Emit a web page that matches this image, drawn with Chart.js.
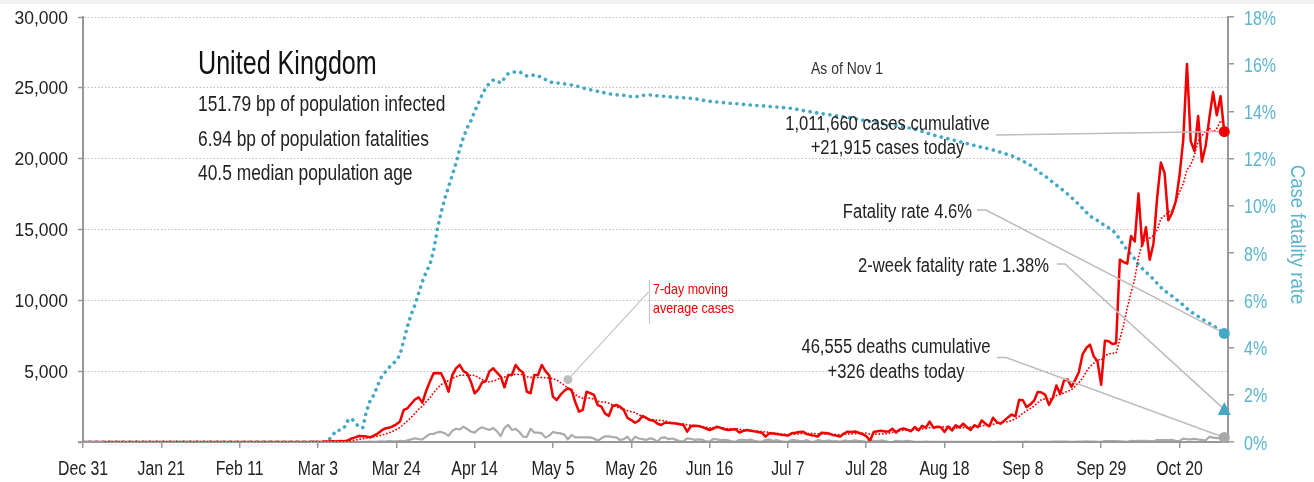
<!DOCTYPE html>
<html>
<head>
<meta charset="utf-8">
<title>United Kingdom</title>
<script src="https://cdn.jsdelivr.net/npm/chart.js@4.4.1/dist/chart.umd.min.js"></script>
<style>
  html, body { margin: 0; padding: 0; background: #fff; }
  canvas { display: block; }
</style>
</head>
<body>
<canvas id="chart" width="1314" height="482"></canvas>
<script>
/****************************************************/
/*****************data (day 0 = Dec 31)**************/
/****************************************************/
const dailyCases = [
  0,0,0,0,0,0,0,0,0,0,
  0,0,0,0,0,0,0,0,0,0,
  0,0,0,0,0,0,0,0,0,0,
  0,0,2,0,0,0,0,0,1,1,
  0,0,4,1,0,0,0,0,0,0,
  0,0,0,0,0,0,0,4,0,2,
  5,3,13,4,11,34,30,48,43,67,
  48,100,250,330,420,400,380,330,450,600,
  800,960,1000,1100,1250,1450,2260,2380,2700,3000,
  3150,2780,3600,4260,4850,4870,4850,4300,3550,4700,
  5200,5440,5000,4850,4260,3440,3700,4200,4300,5000,
  5200,4890,4610,3860,4730,4730,5440,5100,4900,3550,
  3440,4730,4730,5440,5000,4700,3200,2960,3320,3600,
  3790,3670,2800,2140,2260,3550,3450,3320,2610,2490,
  2000,1840,2540,2610,2500,2260,1700,1550,1360,1500,
  1840,1700,1550,1500,1300,1200,1360,1350,1320,1300,
  1250,1200,730,1130,1150,1130,1050,950,850,950,
  1080,1000,900,850,880,900,660,780,850,800,
  750,700,660,380,610,600,560,520,500,450,
  610,650,700,730,570,500,450,380,660,640,
  600,500,450,380,600,730,700,740,650,560,
  420,90,700,760,800,744,742,938,670,892,
  950,871,758,1062,816,1148,1009,1441,1012,1077,
  1040,713,1089,812,1182,1033,1288,1041,853,1184,
  1048,1522,1276,1108,1715,1406,1295,1508,1735,1940,
  1813,2988,2948,2460,2659,2919,3539,3497,3330,2621,
  3105,3991,3395,4322,4422,3899,4368,4926,6178,6634,
  6874,6042,5693,4044,7143,7108,6914,6968,12872,12700,
  12594,14542,14162,17540,13864,15166,12872,13972,17234,19724,
  18980,15650,16171,16982,18804,21331,26688,21242,20530,23012,
  19790,20890,22885,24701,23065,24405,21915
];

const dailyDeaths = [
  0,0,0,0,0,0,0,0,0,0,
  0,0,0,0,0,0,0,0,0,0,
  0,0,0,0,0,0,0,0,0,0,
  0,0,0,0,0,0,0,0,0,0,
  0,0,0,0,0,0,0,0,0,0,
  0,0,0,0,0,0,0,0,0,0,
  0,0,0,0,0,0,1,0,1,0,
  2,1,0,1,1,10,14,20,16,33,
  40,33,56,48,54,87,41,115,181,260,
  209,180,380,563,569,684,708,621,439,786,
  938,881,1080,917,737,660,900,1040,930,847,
  990,750,420,1000,1200,850,930,710,380,360,
  930,660,660,610,310,450,710,640,610,540,
  190,500,330,330,330,330,330,250,90,260,
  400,400,350,330,140,200,380,20,380,250,
  200,140,260,200,20,300,330,200,250,150,
  60,50,250,230,150,190,170,40,30,210,
  180,130,160,120,40,15,160,150,140,170,
  90,30,25,150,170,90,130,60,20,15,
  150,120,80,50,140,20,10,130,80,65,
  110,40,60,10,100,80,70,110,60,55,
  5,110,80,40,110,60,8,1,80,60,
  50,90,55,8,8,15,20,18,11,18,
  3,2,12,6,6,2,12,2,3,16,
  14,12,9,12,1,2,3,10,12,10,
  12,2,3,32,8,14,6,9,5,9,
  27,20,21,27,27,18,11,37,37,40,
  34,34,17,13,71,71,59,66,49,33,
  19,76,70,77,87,81,65,50,143,137,
  138,136,150,67,80,241,191,189,224,174,
  151,102,367,310,280,274,326
];

// case fatality rate, %
const fatalityRate = [
  0,0,0,0,0,0,0,0,0,0,
  0,0,0,0,0,0,0,0,0,0,
  0,0,0,0,0,0,0,0,0,0,
  0,0,0,0,0,0,0,0,0,0,
  0,0,0,0,0,0,0,0,0,0,
  0,0,0,0,0,0,0,0,0,0,
  0,0,0,0,0,0,0.1,0.3,0.5,0.5,
  0.6,0.9,1.0,0.8,0.65,0.6,1.3,1.75,2.0,2.4,
  2.75,2.95,3.15,3.3,3.45,3.7,4.3,4.9,5.4,5.8,
  6.3,6.8,7.2,7.5,8.1,9.0,9.7,10.3,10.8,11.3,
  11.8,12.4,12.9,13.3,13.6,14.0,14.35,14.7,15.0,15.2,
  15.33,15.3,15.2,15.4,15.6,15.65,15.68,15.68,15.6,15.5,
  15.5,15.55,15.5,15.45,15.35,15.26,15.22,15.2,15.2,15.17,
  15.14,15.12,15.08,15.05,15.0,14.95,14.92,14.88,14.85,14.82,
  14.78,14.75,14.72,14.7,14.7,14.68,14.65,14.63,14.62,14.64,
  14.68,14.7,14.7,14.68,14.66,14.65,14.64,14.62,14.61,14.6,
  14.59,14.58,14.57,14.56,14.54,14.51,14.48,14.45,14.43,14.41,
  14.4,14.38,14.37,14.35,14.34,14.33,14.32,14.3,14.29,14.27,
  14.26,14.25,14.24,14.23,14.21,14.2,14.19,14.17,14.16,14.15,
  14.13,14.1,14.07,14.04,14.01,13.99,13.96,13.93,13.91,13.88,
  13.86,13.85,13.82,13.8,13.77,13.74,13.72,13.69,13.66,13.63,
  13.6,13.57,13.55,13.52,13.5,13.47,13.44,13.42,13.39,13.37,
  13.34,13.31,13.29,13.25,13.2,13.15,13.1,13.05,13.0,12.96,
  12.92,12.88,12.84,12.8,12.76,12.72,12.68,12.64,12.6,12.56,
  12.52,12.48,12.45,12.41,12.37,12.32,12.27,12.22,12.17,12.12,
  12.06,11.98,11.9,11.81,11.73,11.6,11.48,11.36,11.26,11.13,
  11.0,10.88,10.75,10.63,10.5,10.36,10.22,10.06,9.9,9.73,
  9.57,9.47,9.38,9.27,9.16,9.07,8.98,8.8,8.58,8.35,
  8.12,7.95,7.75,7.5,7.35,7.2,7.05,6.9,6.72,6.55,
  6.4,6.3,6.18,6.05,5.93,5.8,5.65,5.52,5.42,5.32,
  5.22,5.12,5.03,4.93,4.83,4.72,4.6
];

const twoWeekRate = 1.38;

const xTickLabels = ['Dec 31','Jan 21','Feb 11','Mar 3','Mar 24','Apr 14','May 5','May 26','Jun 16','Jul 7','Jul 28','Aug 18','Sep 8','Sep 29','Oct 20'];
const yTickLabels = ['', '5,000', '10,000', '15,000', '20,000', '25,000', '30,000'];
const rateTickLabels = ['0%','2%','4%','6%','8%','10%','12%','14%','16%','18%'];

const statLines = ['151.79 bp of population infected', '6.94 bp of population fatalities', '40.5 median population age'];

/****************************************************/
/*****************helpers****************************/
/****************************************************/
const FONT = '"Liberation Sans", Arial, sans-serif';
const RED = '#f20000';
const GREY = '#ababab';
const BLUE = '#45a8c4';
const BLUE_TXT = '#5cb4cd';

// 7-day trailing average of the daily cases
const movingAvg = dailyCases.map((v, i) => {
  if (i < 6) return null;
  let s = 0;
  for (let k = i - 6; k <= i; k++) s += dailyCases[k];
  return s / 7;
});

const xy = arr => arr.map((v, i) => ({x: i, y: v}));

// text squeezed horizontally to look like the condensed face of the original
function put(ctx, s, x, y, size, sx, color, align) {
  ctx.save();
  ctx.font = size + 'px ' + FONT;
  ctx.fillStyle = color;
  ctx.textBaseline = 'alphabetic';
  ctx.textAlign = 'left';
  let w = ctx.measureText(s).width * sx;
  let x0 = x;
  if (align === 'right') x0 = x - w;
  if (align === 'center') x0 = x - w / 2;
  ctx.translate(x0, y);
  ctx.scale(sx, 1);
  ctx.fillText(s, 0, 0);
  ctx.restore();
}

function polyline(ctx, pts, color, width) {
  ctx.save();
  ctx.strokeStyle = color;
  ctx.lineWidth = width;
  ctx.beginPath();
  ctx.moveTo(pts[0][0], pts[0][1]);
  for (let i = 1; i < pts.length; i++) ctx.lineTo(pts[i][0], pts[i][1]);
  ctx.stroke();
  ctx.restore();
}

function dot(ctx, p, r, color) {
  ctx.save();
  ctx.fillStyle = color;
  ctx.beginPath();
  ctx.arc(p[0], p[1], r, 0, Math.PI * 2);
  ctx.fill();
  ctx.restore();
}

/****************************************************/
/*****************texts, ticks, call-outs************/
/****************************************************/
const decorations = {
  id: 'decorations',
  beforeDraw(chart) {
    const ctx = chart.ctx;
    ctx.save();
    ctx.fillStyle = '#f0f0f0';
    ctx.fillRect(0, 0, chart.width, 4);
    ctx.restore();
  },
  afterDatasetDraw(chart, args) {
    // x axis line goes over the zero-level lines, under the dotted average
    if (args.index !== 1) return;
    const area = chart.chartArea;
    const y0 = chart.scales.y.getPixelForValue(0);
    polyline(chart.ctx, [[area.left - 5, y0], [area.right, y0]], '#999', 2);
  },
  afterDraw(chart) {
    const ctx = chart.ctx;
    const {x, y, y1} = chart.scales;
    const area = chart.chartArea;

    x.ticks.forEach(t => {
      put(ctx, xTickLabels[Math.round(t.value / 21)], x.getPixelForValue(t.value), 475, 20, 0.79, '#222', 'center');
    });
    y.ticks.forEach(t => {
      put(ctx, yTickLabels[Math.round(t.value / 5000)], area.left - 15, y.getPixelForValue(t.value) + 6.5, 19, 0.92, '#222', 'right');
    });
    y1.ticks.forEach(t => {
      put(ctx, rateTickLabels[Math.round(t.value / 2)], area.right + 16, y1.getPixelForValue(t.value) + 7.5, 20, 0.8, BLUE_TXT, 'left');
    });

    // right axis title
    ctx.save();
    ctx.translate(1291, (area.top + area.bottom) / 2 + 5);
    ctx.rotate(Math.PI / 2);
    put(ctx, 'Case fatality rate', 0, 0, 20, 0.93, BLUE_TXT, 'center');
    ctx.restore();

    // country block
    put(ctx, 'United Kingdom', 198, 74, 33.5, 0.75, '#111', 'left');
    put(ctx, statLines[0], 198, 111, 22, 0.79, '#222', 'left');
    put(ctx, statLines[1], 198, 145.5, 22, 0.79, '#222', 'left');
    put(ctx, statLines[2], 198, 180, 22, 0.79, '#222', 'left');
    put(ctx, 'As of Nov 1', 811, 74, 17, 0.82, '#333', 'left');

    // end points
    const last = dailyCases.length - 1;
    const px = x.getPixelForValue(last);
    const pCase = [px, y.getPixelForValue(dailyCases[last])];
    const pRate = [px, y1.getPixelForValue(fatalityRate[last])];
    const pTwo = [px, y1.getPixelForValue(twoWeekRate)];
    const pDeath = [px, y.getPixelForValue(dailyDeaths[last])];
    const pNote = [x.getPixelForValue(130), y.getPixelForValue(4400)];

    const LEAD = '#bdbdbd';
    polyline(ctx, [[996, 135], pCase], LEAD, 1.6);
    polyline(ctx, [[977, 210], [986, 210], pRate], LEAD, 1.6);
    polyline(ctx, [[1057, 264], [1065, 264], pTwo], LEAD, 1.6);
    polyline(ctx, [[997, 357.5], [1006, 357.5], pDeath], LEAD, 1.6);
    polyline(ctx, [pNote, [648.5, 292]], '#c8c8c8', 1.2);
    polyline(ctx, [[649.5, 280], [649.5, 324]], '#c8c8c8', 1.2);

    put(ctx, '1,011,660 cases cumulative', 887.5, 129.5, 20, 0.83, '#222', 'center');
    put(ctx, '+21,915 cases today', 887.5, 153.5, 20, 0.83, '#222', 'center');
    put(ctx, 'Fatality rate 4.6%', 972, 218, 20, 0.83, '#222', 'right');
    put(ctx, '2-week fatality rate 1.38%', 1049, 272, 20, 0.83, '#222', 'right');
    put(ctx, '46,555 deaths cumulative', 896, 353, 20, 0.83, '#222', 'center');
    put(ctx, '+326 deaths today', 896, 378, 20, 0.83, '#222', 'center');
    put(ctx, '7-day moving', 653, 294, 14.5, 0.86, RED, 'left');
    put(ctx, 'average cases', 653, 313, 14.5, 0.86, RED, 'left');

    dot(ctx, pNote, 4.5, '#bdbdbd');
    dot(ctx, pCase, 5.5, RED);
    dot(ctx, pRate, 5.5, BLUE);
    dot(ctx, pDeath, 5.5, '#a8a8a8');
    ctx.save();
    ctx.fillStyle = BLUE;
    ctx.beginPath();
    ctx.moveTo(pTwo[0], pTwo[1] - 7.5);
    ctx.lineTo(pTwo[0] + 6.5, pTwo[1] + 5.5);
    ctx.lineTo(pTwo[0] - 6.5, pTwo[1] + 5.5);
    ctx.closePath();
    ctx.fill();
    ctx.restore();
  }
};

/****************************************************/
/*****************chart******************************/
/****************************************************/
const ctx = document.getElementById('chart').getContext('2d');
const chart = new Chart(ctx, {
  type: 'line',
  data: {
    datasets: [
      {
        label: '7-day moving average cases',
        data: xy(movingAvg),
        yAxisID: 'y',
        borderColor: RED,
        borderWidth: 1.8,
        borderDash: [0.1, 3.3],
        borderCapStyle: 'round',
        pointRadius: 0
      },
      {
        label: 'Daily cases',
        data: xy(dailyCases),
        yAxisID: 'y',
        borderColor: RED,
        borderWidth: 2.5,
        borderJoinStyle: 'round',
        pointRadius: 0
      },
      {
        label: 'Daily deaths',
        data: xy(dailyDeaths),
        yAxisID: 'y',
        borderColor: GREY,
        borderWidth: 2.2,
        borderJoinStyle: 'round',
        pointRadius: 0
      },
      {
        label: 'Case fatality rate',
        data: xy(fatalityRate),
        yAxisID: 'y1',
        borderColor: BLUE,
        borderWidth: 3.6,
        borderDash: [0.1, 6.6],
        borderCapStyle: 'round',
        pointRadius: 0
      }
    ]
  },
  options: {
    responsive: false,
    animation: false,
    events: [],
    layout: { padding: { top: 17, left: 0, right: 0, bottom: 0 } },
    plugins: { legend: { display: false }, tooltip: { enabled: false } },
    scales: {
      x: {
        type: 'linear',
        min: 0,
        max: 307,
        ticks: { display: false, stepSize: 21, includeBounds: false },
        grid: { drawOnChartArea: false, tickLength: 6, color: '#999', lineWidth: 1.5 },
        border: { color: '#999', width: 2 },
        afterFit: s => { s.height = 40; }
      },
      y: {
        position: 'left',
        min: 0,
        max: 30000,
        ticks: { display: false, stepSize: 5000 },
        grid: { color: '#bdbdbd', lineWidth: 1, tickLength: 5, tickColor: '#999', tickWidth: 1.5 },
        border: { color: '#999', width: 2, dash: [1.5, 2] },
        afterFit: s => { s.width = 83; }
      },
      y1: {
        position: 'right',
        min: 0,
        max: 18,
        ticks: { display: false, stepSize: 2 },
        grid: { drawOnChartArea: false, tickLength: 6, color: '#999', lineWidth: 1.5 },
        border: { color: '#999', width: 2 },
        afterFit: s => { s.width = 86; }
      }
    }
  },
  plugins: [decorations]
});
</script>
</body>
</html>
